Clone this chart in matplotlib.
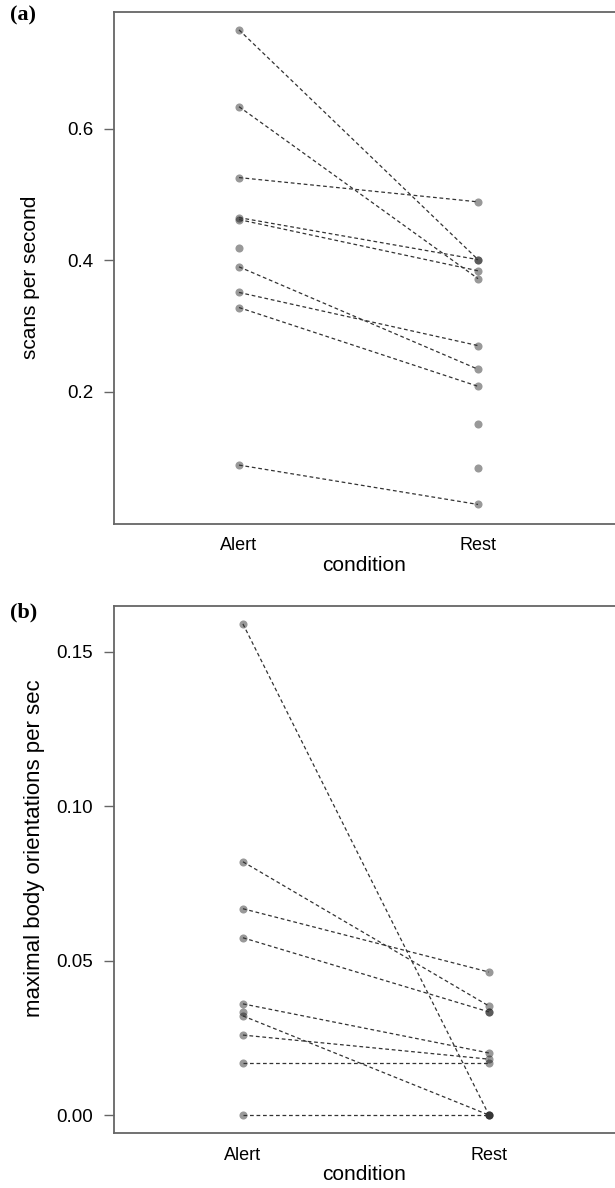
import matplotlib.pyplot as plt
import numpy as np

# panel (a): scans per second, one entry per individual (nan = not observed)
scans_alert = [0.751, 0.634, 0.526, 0.465, 0.462, 0.418, 0.390, 0.351, 0.328, 0.088, np.nan, np.nan]
scans_rest = [0.401, 0.372, 0.489, 0.401, 0.384, np.nan, 0.234, 0.270, 0.208, 0.028, 0.150, 0.083]

# panel (b): maximal body orientations per sec
orient_alert = [0.159, 0.082, 0.0668, 0.0574, 0.0360, 0.0321, 0.0259, 0.0168, 0.0, 0.0334, np.nan]
orient_rest = [0.0, 0.0353, 0.0463, 0.0334, 0.0201, 0.0, 0.0181, 0.0168, 0.0, np.nan, 0.0334]

conditions = ['Alert', 'Rest']

W, H = 615, 1188
fig = plt.figure(figsize=(W / 100, H / 100), dpi=100)
plt.rcParams['font.family'] = ['Liberation Sans', 'DejaVu Sans']


def add_axes_px(left, top, right, bottom):
    return fig.add_axes([left / W, 1 - bottom / H, (right - left) / W, (bottom - top) / H])


def draw_panel(ax, alert, rest, ylabel, yticks, ticklabels, xlim, ylim,
               label_xy, width_px, label_size):
    alert = np.array(alert)
    rest = np.array(rest)
    for a, r in zip(alert, rest):
        if not np.isnan(a) and not np.isnan(r):
            ax.plot([1, 2], [a, r], color='#333333', lw=0.9, ls=(0, (3, 2.2)), zorder=3)
    ax.scatter(np.ones(np.sum(~np.isnan(alert))), alert[~np.isnan(alert)],
               s=34, color='black', alpha=0.4, linewidths=0, zorder=2)
    ax.scatter(np.full(np.sum(~np.isnan(rest)), 2), rest[~np.isnan(rest)],
               s=34, color='black', alpha=0.4, linewidths=0, zorder=2)
    ax.set_xlim(*xlim)
    ax.set_ylim(*ylim)
    ax.set_xticks([1, 2])
    ax.set_xticklabels(conditions, fontsize=13)
    ax.set_yticks(yticks)
    ax.set_yticklabels(ticklabels, fontsize=13.5)
    ax.tick_params(axis='x', length=0, pad=10)
    ax.tick_params(axis='y', length=7, width=1, color='#666666', pad=8)
    ax.set_xlabel('condition', fontsize=15, labelpad=1)
    ax.set_ylabel(ylabel, fontsize=label_size)
    ax.yaxis.set_label_coords(label_xy[0] / width_px, label_xy[1])
    for side in ['left', 'top', 'bottom']:
        ax.spines[side].set_color('#666666')
        ax.spines[side].set_linewidth(1.3)
    ax.spines['right'].set_visible(False)


ax1 = add_axes_px(114, 11.5, 615, 523.5)
draw_panel(ax1, scans_alert, scans_rest, 'scans per second',
           [0.2, 0.4, 0.6], ['0.2', '0.4', '0.6'],
           (0.477, 2.573), (-0.001, 0.779), (40 - 114, 0.48), 615 - 114, 15)

ax2 = add_axes_px(114, 606, 615, 1133)
draw_panel(ax2, orient_alert, orient_rest, 'maximal body orientations per sec',
           [0.0, 0.05, 0.10, 0.15], ['0.00', '0.05', '0.10', '0.15'],
           (0.476, 2.512), (-0.0058, 0.1648), (45 - 114, 0.54), 615 - 114, 16)

fig.text(10 / W, 1 - 15 / H, '(a)', fontsize=16, fontweight='bold',
         family='Liberation Serif', va='center', ha='left')
fig.text(10 / W, 1 - 612 / H, '(b)', fontsize=16, fontweight='bold',
         family='Liberation Serif', va='center', ha='left')

fig.savefig('out.png', dpi=100)
